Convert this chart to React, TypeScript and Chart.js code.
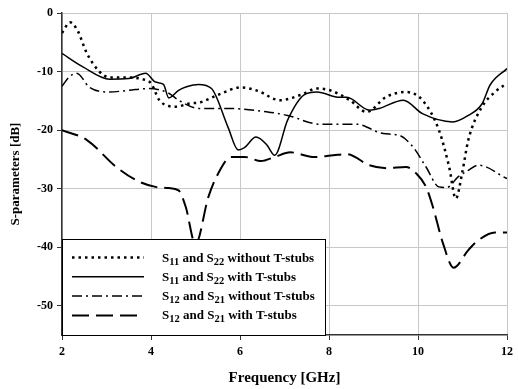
import React, { useEffect, useRef } from 'react';
import { Chart, registerables } from 'chart.js';

Chart.register(...registerables);

const FONT = "'Liberation Serif', 'Times New Roman', serif";

const xTicks = [2, 4, 6, 8, 10, 12];
const yTicks = [-50, -40, -30, -20, -10, 0];

// S11 and S22 without T-stubs (dotted)
const s11NoStubF = [2, 2.18, 2.35, 2.56, 2.84, 3.07, 3.5, 3.8, 4.0, 4.18, 4.4, 4.56, 4.84, 5.13, 5.5, 6.02, 6.4, 6.9, 7.36, 7.73, 8.02, 8.47, 8.84, 9.29, 9.73, 10.1, 10.47, 10.7, 10.85, 11.0, 11.13, 11.44, 11.73, 12];
const s11NoStubV = [-3.4, -1.6, -3, -6.9, -10, -11, -11, -11.3, -12, -14.8, -15.9, -16, -15.5, -15.2, -14, -12.7, -13.3, -14.9, -14, -12.9, -13.2, -14.9, -16.9, -14.3, -13.5, -14.9, -20, -26.3, -31.7, -27, -21.7, -16, -13.5, -12];

// S11 and S22 with T-stubs (solid)
const s11StubF = [2, 2.47, 3.07, 3.5, 3.88, 4.1, 4.28, 4.4, 4.62, 4.8, 5.07, 5.36, 5.73, 5.96, 6.1, 6.36, 6.6, 6.78, 7.07, 7.44, 7.73, 8.24, 8.4, 8.91, 9.13, 9.67, 10.1, 10.78, 11.13, 11.44, 11.62, 12];
const s11StubV = [-6.9, -9.2, -11.3, -11.2, -10.3, -11.8, -12.2, -14.5, -13.2, -12.6, -12.2, -12.9, -19.5, -23.4, -23, -21.2, -22.5, -24.3, -18.3, -14, -13.5, -14.4, -14.4, -16.6, -16.3, -14.9, -17.2, -18.6, -17.5, -15.5, -12.3, -9.5];

// S12 and S21 without T-stubs (dash-dot)
const s12NoStubF = [2, 2.18, 2.33, 2.62, 3.07, 3.5, 3.96, 4.4, 4.62, 5.07, 5.73, 6.62, 7.07, 7.8, 8.24, 8.62, 9.22, 9.58, 9.89, 10.18, 10.47, 10.65, 10.9, 11.1, 11.36, 12];
const s12NoStubV = [-12.5, -10.8, -10.3, -12.7, -13.5, -13.2, -12.9, -13.7, -14.9, -16.3, -16.3, -16.9, -17.5, -19, -19, -19, -20.6, -20.9, -22.9, -26.3, -29.7, -29.8, -28, -27, -26, -28.3];

// S12 and S21 with T-stubs (long dash)
const s12StubF = [2, 2.56, 3.22, 3.73, 4.1, 4.4, 4.62, 4.78, 5.0, 5.29, 5.51, 5.8, 6.11, 6.47, 6.78, 7.13, 7.67, 8.1, 8.4, 8.91, 9.29, 9.73, 9.96, 10.18, 10.33, 10.56, 10.8, 11.13, 11.36, 11.73, 12];
const s12StubV = [-20, -21.7, -26.3, -28.8, -29.7, -29.9, -30.3, -33.1, -39.5, -31.4, -27.4, -24.6, -24.6, -25.3, -24.6, -23.8, -24.6, -24.3, -24.1, -26, -26.5, -26.3, -27.4, -29.7, -33, -39.3, -43.5, -40.5, -38.8, -37.5, -37.5];

const legendRows: { parts: [string, boolean][]; dash: number[]; width: number }[] = [
  { parts: [['S', false], ['11', true], [' and ', false], ['S', false], ['22', true], [' without T-stubs', false]], dash: [2.5, 4], width: 2.5 },
  { parts: [['S', false], ['11', true], [' and ', false], ['S', false], ['22', true], [' with T-stubs', false]], dash: [], width: 1.5 },
  { parts: [['S', false], ['12', true], [' and ', false], ['S', false], ['21', true], [' without T-stubs', false]], dash: [10, 4, 2, 4], width: 1.5 },
  { parts: [['S', false], ['12', true], [' and ', false], ['S', false], ['21', true], [' with T-stubs', false]], dash: [17, 7], width: 2 },
];

const zip = (f: number[], v: number[]) => f.map((x, i) => ({ x, y: v[i] }));

const legendPlugin = {
  id: 'boxLegend',
  afterDatasetsDraw(chart: any) {
    const { ctx, chartArea } = chart;
    const x0 = chartArea.left;
    const w = 263;
    const h = 96;
    const y0 = chartArea.bottom - h;
    ctx.save();
    ctx.fillStyle = '#ffffff';
    ctx.fillRect(x0, y0, w, h);
    ctx.strokeStyle = '#000';
    ctx.lineWidth = 1;
    ctx.setLineDash([]);
    ctx.strokeRect(Math.round(x0) + 0.5, Math.round(y0) + 0.5, w, h);
    legendRows.forEach((row, i) => {
      const ly = y0 + 18.5 + i * 19.3;
      ctx.beginPath();
      ctx.strokeStyle = '#000';
      ctx.lineWidth = row.width;
      ctx.setLineDash(row.dash);
      ctx.moveTo(x0 + 10, ly);
      ctx.lineTo(x0 + 82, ly);
      ctx.stroke();
      ctx.setLineDash([]);
      let tx = x0 + 100;
      ctx.fillStyle = '#000';
      ctx.textBaseline = 'alphabetic';
      ctx.textAlign = 'left';
      for (const [txt, sub] of row.parts) {
        ctx.font = sub ? `bold 10.5px ${FONT}` : `bold 13px ${FONT}`;
        ctx.fillText(txt, tx, sub ? ly + 7 : ly + 4);
        tx += ctx.measureText(txt).width;
      }
    });
    ctx.restore();
  },
};

export default function App() {
  const ref = useRef<HTMLCanvasElement>(null);
  useEffect(() => {
    document.body.style.margin = '0';
    const common = { borderColor: '#000', pointRadius: 0, fill: false, cubicInterpolationMode: 'monotone' as const, borderCapStyle: 'butt' as const };
    const chart = new Chart(ref.current!, {
      type: 'line',
      data: {
        datasets: [
          { ...common, label: 'S11 and S22 without T-stubs', data: zip(s11NoStubF, s11NoStubV), borderWidth: 2.5, borderDash: [2.5, 4] },
          { ...common, label: 'S11 and S22 with T-stubs', data: zip(s11StubF, s11StubV), borderWidth: 1.5 },
          { ...common, label: 'S12 and S21 without T-stubs', data: zip(s12NoStubF, s12NoStubV), borderWidth: 1.5, borderDash: [10, 4, 2, 4] },
          { ...common, label: 'S12 and S21 with T-stubs', data: zip(s12StubF, s12StubV), borderWidth: 2, borderDash: [17, 7] },
        ],
      },
      options: {
        responsive: false,
        animation: false,
        layout: { padding: { top: 13, right: 6, left: 0, bottom: 0 } },
        plugins: { legend: { display: false }, tooltip: { enabled: false } },
        scales: {
          x: {
            type: 'linear',
            min: 2,
            max: 12,
            afterBuildTicks: (s: any) => { s.ticks = xTicks.map((v) => ({ value: v })); },
            afterFit: (s: any) => { s.height = 54; },
            grid: { color: '#c8c8c8', tickColor: '#333', tickLength: 5 },
            border: { color: '#333', width: 1.5 },
            ticks: { color: '#000', font: { family: FONT, size: 12, weight: 'bold' }, padding: 5, maxRotation: 0 },
            title: { display: true, text: 'Frequency [GHz]', color: '#000', font: { family: FONT, size: 15, weight: 'bold' }, padding: { top: 0, bottom: 2 } },
          },
          y: {
            type: 'linear',
            min: -55,
            max: 0,
            afterBuildTicks: (s: any) => { s.ticks = yTicks.map((v) => ({ value: v })); },
            afterFit: (s: any) => { s.width = 62; },
            grid: { color: '#c8c8c8', tickColor: '#333', tickLength: 5 },
            border: { color: '#333', width: 1.5 },
            ticks: { color: '#000', font: { family: FONT, size: 12, weight: 'bold' }, padding: 4 },
            title: { display: true, text: 'S-parameters [dB]', color: '#000', font: { family: FONT, size: 13, weight: 'bold' }, padding: { top: 8, bottom: 0 } },
          },
        },
      },
      plugins: [legendPlugin],
    });
    return () => chart.destroy();
  }, []);
  return <canvas ref={ref} width={518} height={389} style={{ display: 'block' }} />;
}
